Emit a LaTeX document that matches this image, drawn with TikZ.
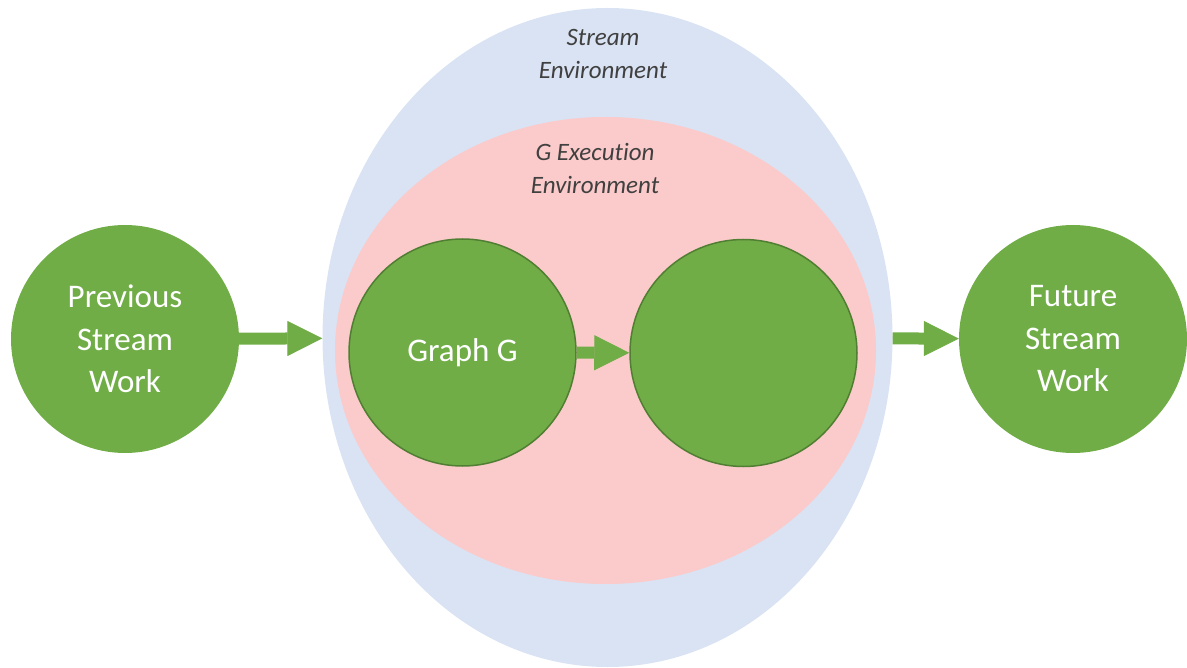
\documentclass[tikz,border=0pt]{standalone}
\usepackage{fontspec}
\setmainfont{Carlito}[Ligatures=NoCommon]
\usepackage[usenames,dvipsnames]{xcolor}
\usepackage{tikz}
\usetikzlibrary{shapes.geometric,arrows.meta}

\definecolor{workgreen}{HTML}{70AD47}
\definecolor{edgegreen}{HTML}{507E32}
\definecolor{streamblue}{HTML}{DAE3F3}
\definecolor{execpink}{HTML}{FBCACA}
\definecolor{labelgray}{HTML}{404040}

\tikzset{
    work/.style={circle, fill=workgreen, minimum size=228pt, inner sep=0pt,
        text=white, align=center, font=\fontsize{33}{42.5}\selectfont},
    graphnode/.style={work, minimum size=227pt, draw=edgegreen, line width=1.5pt},
    envlabel/.style={align=center, text=labelgray,
        font=\fontsize{25}{32.5}\selectfont\itshape},
    flow/.style={workgreen, line width=12pt,
        -{Triangle[length=35pt, width=35pt, line width=1pt]}}
}

\begin{document}
\begin{tikzpicture}[x=1pt, y=-1pt]
    \useasboundingbox (0, 0) rectangle (1187, 668);

    \node[ellipse, fill=streamblue, inner sep=0pt,
          minimum width=570pt, minimum height=659pt] (stream) at (607.5, 337.5) {};
    \node[ellipse, fill=execpink, inner sep=0pt,
          minimum width=541pt, minimum height=467pt] (gexec) at (605.5, 350.5) {};

    \node[envlabel] (streamlabel) at (603, 54) {Stream\\Environment};
    \node[envlabel] (gexeclabel) at (595, 168.5) {G Execution\\Environment};

    \node[work] (prev) at (125, 339) {Previous\\Stream\\Work};
    \node[work] (future) at (1073, 339) {Future\\Stream\\Work};
    \node[graphnode] (graphg) at (462.5, 352.5) {Graph G};
    \node[graphnode] (nextg) at (743.5, 353) {};

    \draw[flow] (prev) -- (stream);
    \draw[flow] (graphg) -- (nextg);
    \draw[flow] (stream) -- (future);
\end{tikzpicture}
\end{document}
